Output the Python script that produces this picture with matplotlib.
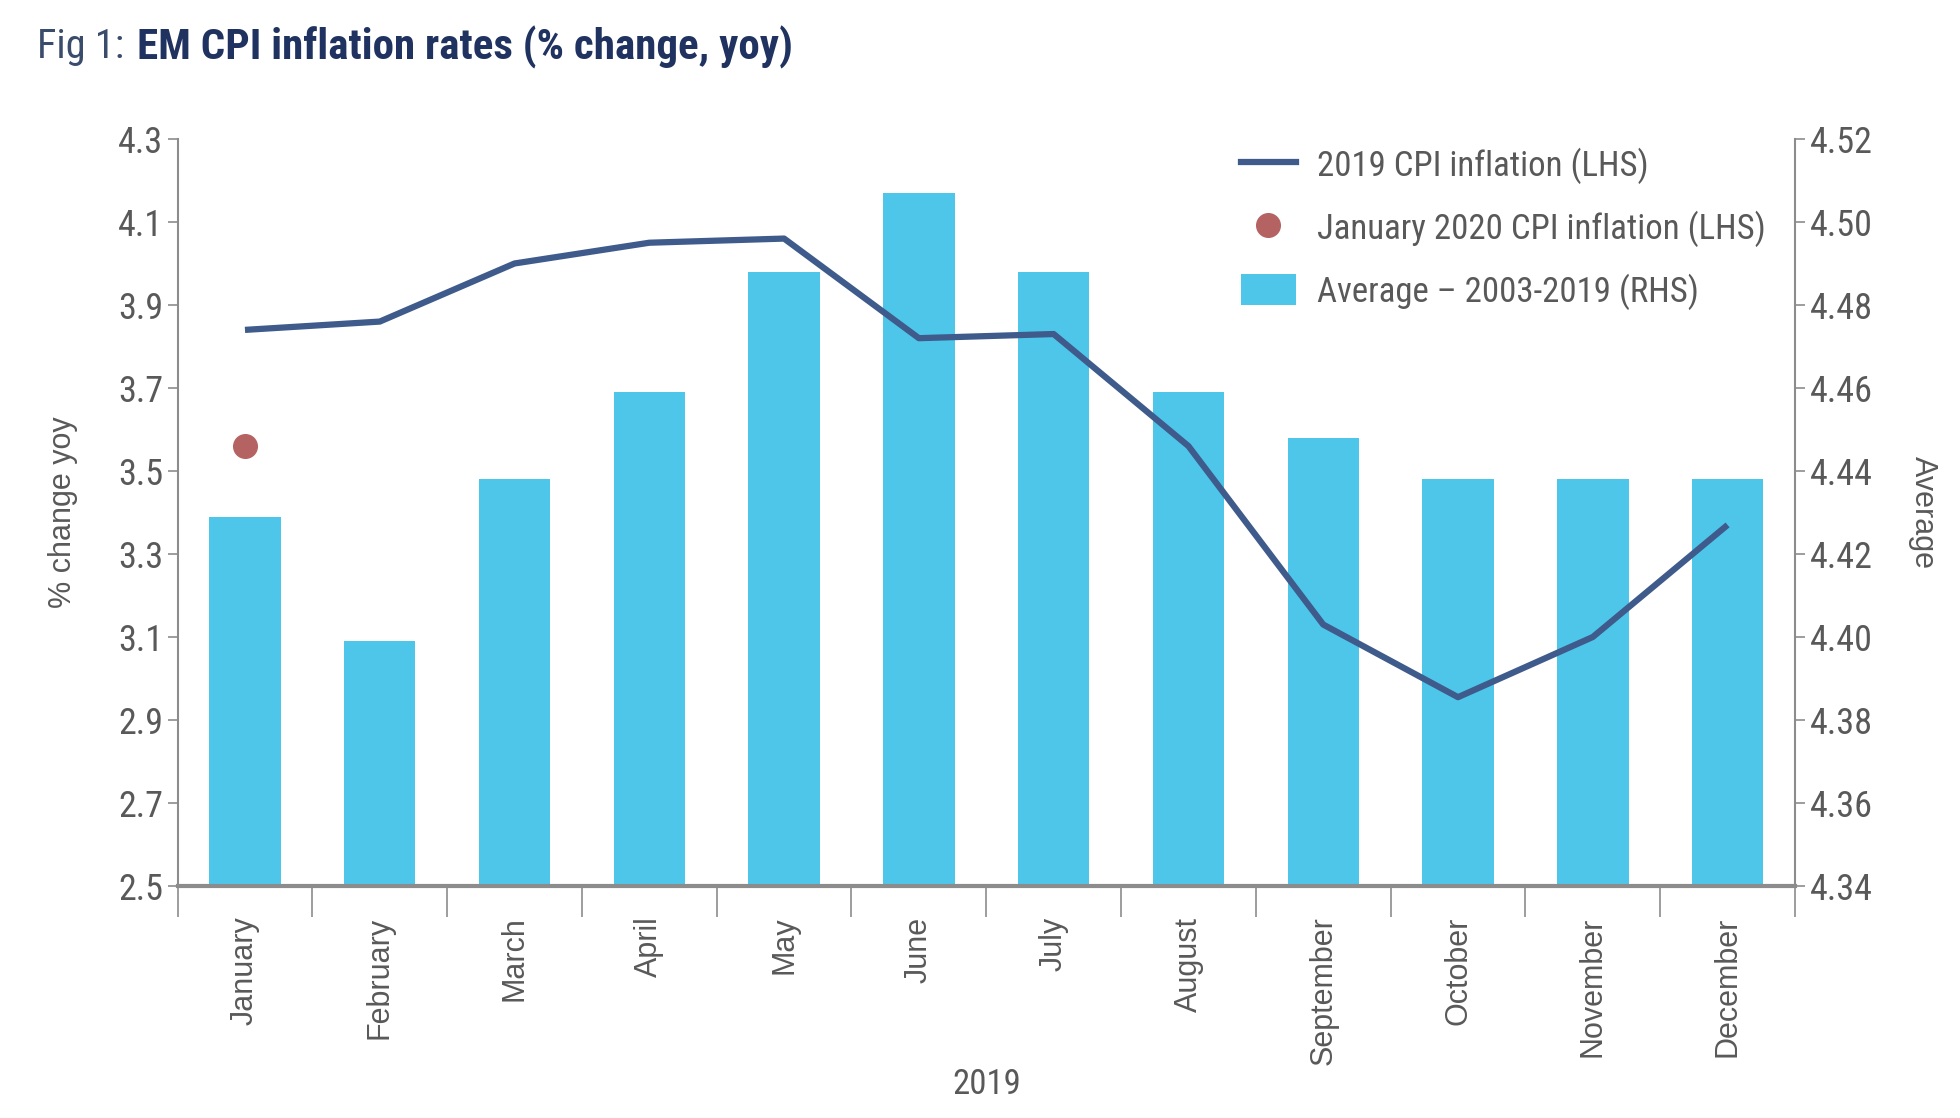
import matplotlib
matplotlib.use("Agg")
import matplotlib.pyplot as plt
from matplotlib.lines import Line2D
from matplotlib.patches import Patch
from matplotlib import font_manager
import numpy as np

months = ["January", "February", "March", "April", "May", "June", "July",
          "August", "September", "October", "November", "December"]
cpi_2019 = [3.84, 3.86, 4.00, 4.05, 4.06, 3.82, 3.83, 3.56, 3.13, 2.955, 3.10, 3.37]
jan_2020 = [3.56]
avg_2003_2019 = [4.429, 4.399, 4.438, 4.459, 4.488, 4.507, 4.488, 4.459, 4.448, 4.438, 4.438, 4.438]
left_ticks = [2.5, 2.7, 2.9, 3.1, 3.3, 3.5, 3.7, 3.9, 4.1, 4.3]
right_ticks = [4.34, 4.36, 4.38, 4.40, 4.42, 4.44, 4.46, 4.48, 4.50, 4.52]

entries = font_manager.fontManager.ttflist
names = {f.name for f in entries}
narrow = None
for cand in ["Roboto Condensed", "Liberation Sans Narrow", "Open Sans Condensed",
             "Noto Sans Condensed", "DejaVu Sans Condensed"]:
    if cand in names:
        narrow = cand
        break
stretch = 'normal'
if narrow is None:
    for f in entries:
        if f.name in ("Noto Sans", "Open Sans", "DejaVu Sans") and str(f.stretch) in (
                'condensed', 'semi-condensed', '75', '87.5', 'extra-condensed'):
            narrow = f.name
            stretch = 'condensed'
            break
if narrow is None:
    narrow = "Roboto"
plt.rcParams['font.family'] = [narrow, 'DejaVu Sans']
plt.rcParams['font.stretch'] = stretch

BAR = "#4EC6E9"
LINE = "#3E5B8C"
DOT = "#B56262"
TXT = "#595959"
GRID = "#8C8C8C"

fig = plt.figure(figsize=(19.6, 11.18), dpi=100)
ax = fig.add_axes([0.0906, 0.2075, 0.8252, 0.6682])
ax2 = ax.twinx()

x = np.arange(len(months))
ax2.bar(x, avg_2003_2019, width=0.53, color=BAR, zorder=1)
ax.plot(x, cpi_2019, color=LINE, lw=4.5, zorder=3, solid_capstyle='butt')
ax.plot([0], jan_2020, 'o', color=DOT, ms=17, zorder=4)

ax.set_zorder(ax2.get_zorder() + 1)
ax.patch.set_visible(False)

ax.set_xlim(-0.5, 11.5)
ax.set_ylim(2.5, 4.3)
ax2.set_ylim(4.34, 4.52)
ax.set_yticks(left_ticks)
ax.set_yticklabels([f"{v:.1f}" for v in left_ticks])
ax2.set_yticks(right_ticks)
ax2.set_yticklabels([f"{v:.2f}" for v in right_ticks])

ax.set_xticks(x)
ax.set_xticklabels(months, rotation=90, fontsize=22, color=TXT,
                   family=['Liberation Sans', 'DejaVu Sans'], stretch='normal')
ax.tick_params(axis='x', length=0, pad=22)
ax.set_xticks(np.arange(-0.5, 12, 1), minor=True)
ax.tick_params(axis='x', which='minor', length=22, width=1.2, color=GRID, direction='out')

for a in (ax, ax2):
    a.tick_params(axis='y', labelsize=26, colors=GRID, labelcolor=TXT, length=7, width=1.2)
    for s in a.spines.values():
        s.set_visible(False)
ax.spines['left'].set_visible(True)
ax.spines['left'].set_color(GRID)
ax.spines['left'].set_linewidth(1.5)
ax2.spines['right'].set_visible(True)
ax2.spines['right'].set_color(GRID)
ax2.spines['right'].set_linewidth(1.5)
ax.spines['bottom'].set_visible(True)
ax.spines['bottom'].set_color(GRID)
ax.spines['bottom'].set_linewidth(3)
ax.spines['bottom'].set_zorder(5)

ax.set_ylabel("% change yoy", fontsize=22, color=TXT, labelpad=29,
              family=['Liberation Sans', 'DejaVu Sans'], stretch='normal')
ax2.set_ylabel("Average", fontsize=22, color=TXT, rotation=-90, labelpad=47,
               family=['Liberation Sans', 'DejaVu Sans'], stretch='normal')
ax.set_xlabel("2019", fontsize=25, color=TXT, labelpad=2)

handles = [Line2D([0], [0], color=LINE, lw=4.5),
           Line2D([0], [0], marker='o', color=DOT, ls='none', ms=17),
           Patch(facecolor=BAR)]
labels = ["2019 CPI inflation (LHS)", "January 2020 CPI inflation (LHS)",
          "Average \u2013 2003-2019 (RHS)"]
leg = ax.legend(handles, labels, loc='upper left', bbox_to_anchor=(0.638, 1.03),
                frameon=False, fontsize=25, labelcolor=TXT, handlelength=1.6,
                handleheight=1.0, labelspacing=0.76, handletextpad=0.6)

t1 = fig.text(0.019, 0.958, "Fig 1:", fontsize=29, color="#3A4C6B", va='center')
fig.canvas.draw()
bb = t1.get_window_extent()
x1 = bb.x1 / fig.bbox.width
fig.text(x1 + 0.0065, 0.958, "EM CPI inflation rates (% change, yoy)", fontsize=31,
         color="#1F3260", fontweight='bold', va='center')

fig.savefig("out.png", dpi=100)
